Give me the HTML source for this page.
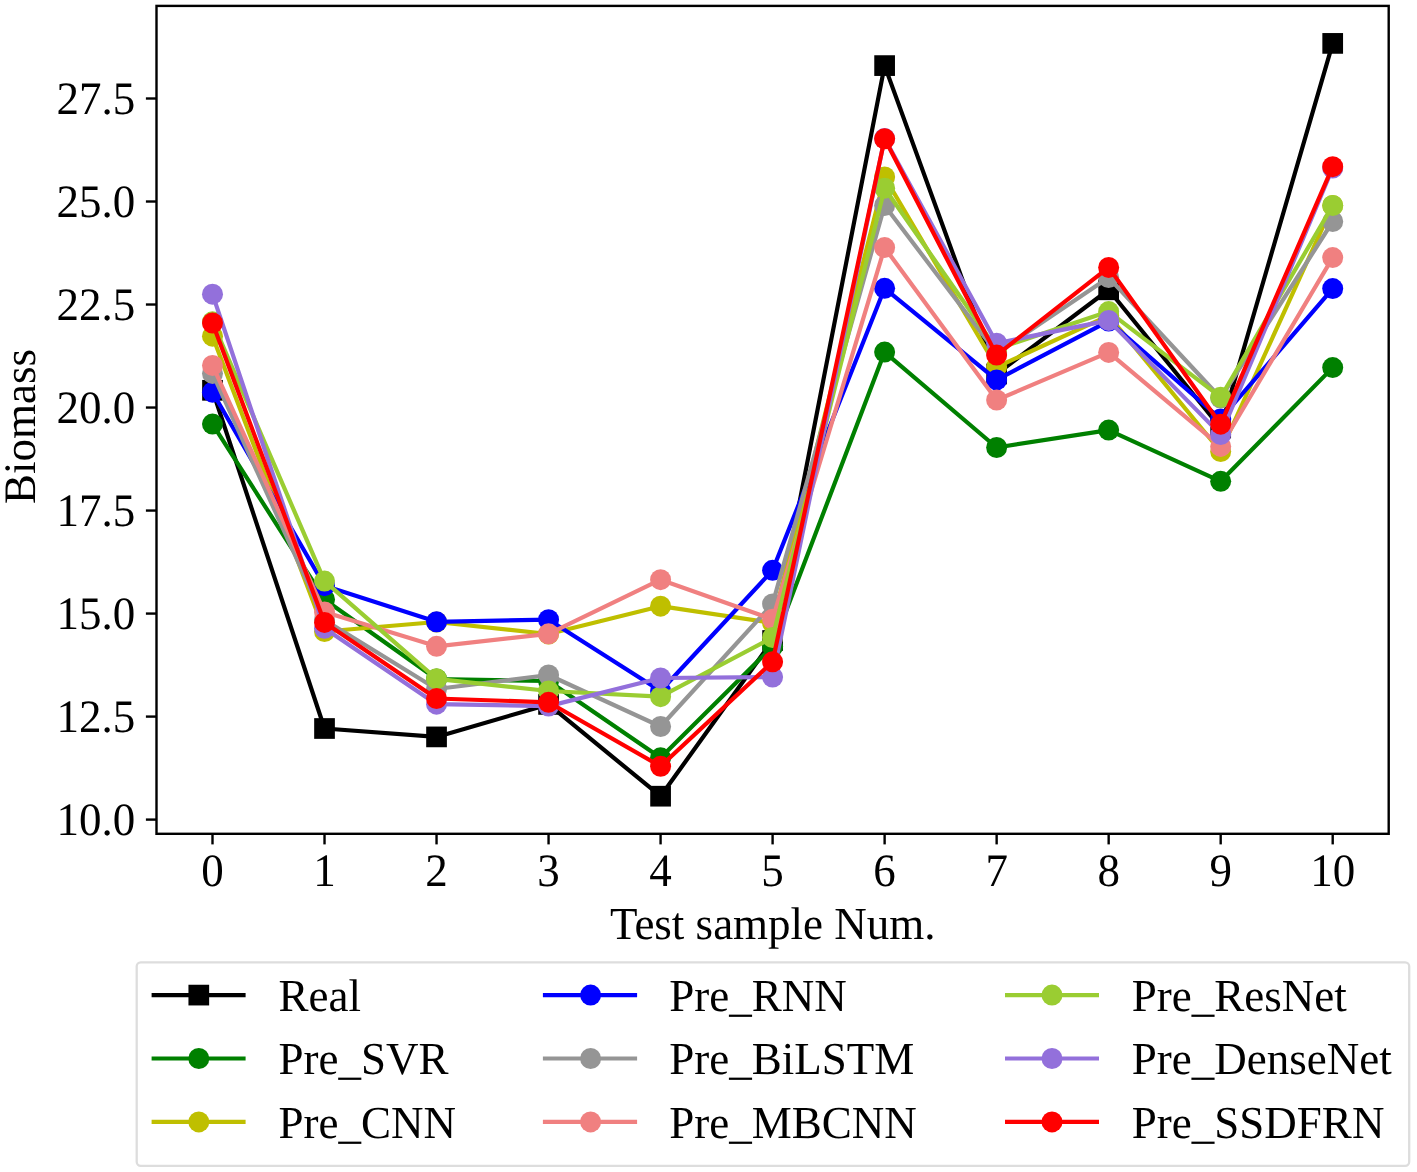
<!DOCTYPE html><html><head><meta charset="utf-8"><style>html,body{margin:0;padding:0;background:#fff;}svg{display:block;will-change:transform;}text{font-family:"Liberation Serif",serif;fill:#000;text-rendering:geometricPrecision;}</style></head><body>
<svg width="1417" height="1172" viewBox="0 0 1417 1172">
<rect width="1417" height="1172" fill="#fff"/>
<defs><clipPath id="ax"><rect x="156.5" y="5.9" width="1232.2" height="827.9"/></clipPath></defs>
<g clip-path="url(#ax)">
<polyline points="212.50,390.30 324.52,728.50 436.54,736.90 548.56,704.40 660.58,796.20 772.60,640.50 884.62,65.60 996.64,374.00 1108.66,289.80 1220.68,428.00 1332.70,43.40" fill="none" stroke="#000000" stroke-width="4.2" stroke-linejoin="round" stroke-linecap="butt"/>
<rect x="202.15" y="379.95" width="20.7" height="20.7" fill="#000000"/>
<rect x="314.17" y="718.15" width="20.7" height="20.7" fill="#000000"/>
<rect x="426.19" y="726.55" width="20.7" height="20.7" fill="#000000"/>
<rect x="538.21" y="694.05" width="20.7" height="20.7" fill="#000000"/>
<rect x="650.23" y="785.85" width="20.7" height="20.7" fill="#000000"/>
<rect x="762.25" y="630.15" width="20.7" height="20.7" fill="#000000"/>
<rect x="874.27" y="55.25" width="20.7" height="20.7" fill="#000000"/>
<rect x="986.29" y="363.65" width="20.7" height="20.7" fill="#000000"/>
<rect x="1098.31" y="279.45" width="20.7" height="20.7" fill="#000000"/>
<rect x="1210.33" y="417.65" width="20.7" height="20.7" fill="#000000"/>
<rect x="1322.35" y="33.05" width="20.7" height="20.7" fill="#000000"/>
<polyline points="212.50,424.10 324.52,599.50 436.54,679.00 548.56,681.00 660.58,757.80 772.60,646.50 884.62,352.10 996.64,447.50 1108.66,430.10 1220.68,481.30 1332.70,367.60" fill="none" stroke="#008000" stroke-width="4.2" stroke-linejoin="round" stroke-linecap="butt"/>
<circle cx="212.50" cy="424.10" r="10.5" fill="#008000"/>
<circle cx="324.52" cy="599.50" r="10.5" fill="#008000"/>
<circle cx="436.54" cy="679.00" r="10.5" fill="#008000"/>
<circle cx="548.56" cy="681.00" r="10.5" fill="#008000"/>
<circle cx="660.58" cy="757.80" r="10.5" fill="#008000"/>
<circle cx="772.60" cy="646.50" r="10.5" fill="#008000"/>
<circle cx="884.62" cy="352.10" r="10.5" fill="#008000"/>
<circle cx="996.64" cy="447.50" r="10.5" fill="#008000"/>
<circle cx="1108.66" cy="430.10" r="10.5" fill="#008000"/>
<circle cx="1220.68" cy="481.30" r="10.5" fill="#008000"/>
<circle cx="1332.70" cy="367.60" r="10.5" fill="#008000"/>
<polyline points="212.50,336.20 324.52,631.50 436.54,622.00 548.56,634.00 660.58,606.20 772.60,623.00 884.62,177.00 996.64,367.00 1108.66,315.70 1220.68,451.50 1332.70,205.50" fill="none" stroke="#bfbf00" stroke-width="4.2" stroke-linejoin="round" stroke-linecap="butt"/>
<circle cx="212.50" cy="336.20" r="10.5" fill="#bfbf00"/>
<circle cx="324.52" cy="631.50" r="10.5" fill="#bfbf00"/>
<circle cx="436.54" cy="622.00" r="10.5" fill="#bfbf00"/>
<circle cx="548.56" cy="634.00" r="10.5" fill="#bfbf00"/>
<circle cx="660.58" cy="606.20" r="10.5" fill="#bfbf00"/>
<circle cx="772.60" cy="623.00" r="10.5" fill="#bfbf00"/>
<circle cx="884.62" cy="177.00" r="10.5" fill="#bfbf00"/>
<circle cx="996.64" cy="367.00" r="10.5" fill="#bfbf00"/>
<circle cx="1108.66" cy="315.70" r="10.5" fill="#bfbf00"/>
<circle cx="1220.68" cy="451.50" r="10.5" fill="#bfbf00"/>
<circle cx="1332.70" cy="205.50" r="10.5" fill="#bfbf00"/>
<polyline points="212.50,392.20 324.52,585.70 436.54,621.80 548.56,619.70 660.58,691.00 772.60,570.30 884.62,288.30 996.64,379.90 1108.66,321.10 1220.68,419.00 1332.70,288.60" fill="none" stroke="#0000ff" stroke-width="4.2" stroke-linejoin="round" stroke-linecap="butt"/>
<circle cx="212.50" cy="392.20" r="10.5" fill="#0000ff"/>
<circle cx="324.52" cy="585.70" r="10.5" fill="#0000ff"/>
<circle cx="436.54" cy="621.80" r="10.5" fill="#0000ff"/>
<circle cx="548.56" cy="619.70" r="10.5" fill="#0000ff"/>
<circle cx="660.58" cy="691.00" r="10.5" fill="#0000ff"/>
<circle cx="772.60" cy="570.30" r="10.5" fill="#0000ff"/>
<circle cx="884.62" cy="288.30" r="10.5" fill="#0000ff"/>
<circle cx="996.64" cy="379.90" r="10.5" fill="#0000ff"/>
<circle cx="1108.66" cy="321.10" r="10.5" fill="#0000ff"/>
<circle cx="1220.68" cy="419.00" r="10.5" fill="#0000ff"/>
<circle cx="1332.70" cy="288.60" r="10.5" fill="#0000ff"/>
<polyline points="212.50,373.40 324.52,620.00 436.54,689.00 548.56,675.00 660.58,726.50 772.60,603.90 884.62,205.50 996.64,353.00 1108.66,277.50 1220.68,398.00 1332.70,221.50" fill="none" stroke="#959595" stroke-width="4.2" stroke-linejoin="round" stroke-linecap="butt"/>
<circle cx="212.50" cy="373.40" r="10.5" fill="#959595"/>
<circle cx="324.52" cy="620.00" r="10.5" fill="#959595"/>
<circle cx="436.54" cy="689.00" r="10.5" fill="#959595"/>
<circle cx="548.56" cy="675.00" r="10.5" fill="#959595"/>
<circle cx="660.58" cy="726.50" r="10.5" fill="#959595"/>
<circle cx="772.60" cy="603.90" r="10.5" fill="#959595"/>
<circle cx="884.62" cy="205.50" r="10.5" fill="#959595"/>
<circle cx="996.64" cy="353.00" r="10.5" fill="#959595"/>
<circle cx="1108.66" cy="277.50" r="10.5" fill="#959595"/>
<circle cx="1220.68" cy="398.00" r="10.5" fill="#959595"/>
<circle cx="1332.70" cy="221.50" r="10.5" fill="#959595"/>
<polyline points="212.50,365.40 324.52,612.00 436.54,646.30 548.56,633.80 660.58,579.70 772.60,619.20 884.62,247.60 996.64,400.00 1108.66,352.40 1220.68,446.40 1332.70,257.60" fill="none" stroke="#f08080" stroke-width="4.2" stroke-linejoin="round" stroke-linecap="butt"/>
<circle cx="212.50" cy="365.40" r="10.5" fill="#f08080"/>
<circle cx="324.52" cy="612.00" r="10.5" fill="#f08080"/>
<circle cx="436.54" cy="646.30" r="10.5" fill="#f08080"/>
<circle cx="548.56" cy="633.80" r="10.5" fill="#f08080"/>
<circle cx="660.58" cy="579.70" r="10.5" fill="#f08080"/>
<circle cx="772.60" cy="619.20" r="10.5" fill="#f08080"/>
<circle cx="884.62" cy="247.60" r="10.5" fill="#f08080"/>
<circle cx="996.64" cy="400.00" r="10.5" fill="#f08080"/>
<circle cx="1108.66" cy="352.40" r="10.5" fill="#f08080"/>
<circle cx="1220.68" cy="446.40" r="10.5" fill="#f08080"/>
<circle cx="1332.70" cy="257.60" r="10.5" fill="#f08080"/>
<polyline points="212.50,321.80 324.52,581.10 436.54,678.80 548.56,691.00 660.58,696.70 772.60,637.50 884.62,188.20 996.64,349.00 1108.66,311.60 1220.68,397.20 1332.70,205.50" fill="none" stroke="#9acd32" stroke-width="4.2" stroke-linejoin="round" stroke-linecap="butt"/>
<circle cx="212.50" cy="321.80" r="10.5" fill="#9acd32"/>
<circle cx="324.52" cy="581.10" r="10.5" fill="#9acd32"/>
<circle cx="436.54" cy="678.80" r="10.5" fill="#9acd32"/>
<circle cx="548.56" cy="691.00" r="10.5" fill="#9acd32"/>
<circle cx="660.58" cy="696.70" r="10.5" fill="#9acd32"/>
<circle cx="772.60" cy="637.50" r="10.5" fill="#9acd32"/>
<circle cx="884.62" cy="188.20" r="10.5" fill="#9acd32"/>
<circle cx="996.64" cy="349.00" r="10.5" fill="#9acd32"/>
<circle cx="1108.66" cy="311.60" r="10.5" fill="#9acd32"/>
<circle cx="1220.68" cy="397.20" r="10.5" fill="#9acd32"/>
<circle cx="1332.70" cy="205.50" r="10.5" fill="#9acd32"/>
<polyline points="212.50,294.20 324.52,628.30 436.54,704.20 548.56,706.10 660.58,678.00 772.60,677.10 884.62,138.50 996.64,343.20 1108.66,320.40 1220.68,434.60 1332.70,168.00" fill="none" stroke="#9370db" stroke-width="4.2" stroke-linejoin="round" stroke-linecap="butt"/>
<circle cx="212.50" cy="294.20" r="10.5" fill="#9370db"/>
<circle cx="324.52" cy="628.30" r="10.5" fill="#9370db"/>
<circle cx="436.54" cy="704.20" r="10.5" fill="#9370db"/>
<circle cx="548.56" cy="706.10" r="10.5" fill="#9370db"/>
<circle cx="660.58" cy="678.00" r="10.5" fill="#9370db"/>
<circle cx="772.60" cy="677.10" r="10.5" fill="#9370db"/>
<circle cx="884.62" cy="138.50" r="10.5" fill="#9370db"/>
<circle cx="996.64" cy="343.20" r="10.5" fill="#9370db"/>
<circle cx="1108.66" cy="320.40" r="10.5" fill="#9370db"/>
<circle cx="1220.68" cy="434.60" r="10.5" fill="#9370db"/>
<circle cx="1332.70" cy="168.00" r="10.5" fill="#9370db"/>
<polyline points="212.50,323.00 324.52,622.40 436.54,698.50 548.56,702.30 660.58,766.30 772.60,661.80 884.62,138.80 996.64,355.10 1108.66,267.40 1220.68,424.20 1332.70,166.70" fill="none" stroke="#ff0000" stroke-width="4.2" stroke-linejoin="round" stroke-linecap="butt"/>
<circle cx="212.50" cy="323.00" r="10.5" fill="#ff0000"/>
<circle cx="324.52" cy="622.40" r="10.5" fill="#ff0000"/>
<circle cx="436.54" cy="698.50" r="10.5" fill="#ff0000"/>
<circle cx="548.56" cy="702.30" r="10.5" fill="#ff0000"/>
<circle cx="660.58" cy="766.30" r="10.5" fill="#ff0000"/>
<circle cx="772.60" cy="661.80" r="10.5" fill="#ff0000"/>
<circle cx="884.62" cy="138.80" r="10.5" fill="#ff0000"/>
<circle cx="996.64" cy="355.10" r="10.5" fill="#ff0000"/>
<circle cx="1108.66" cy="267.40" r="10.5" fill="#ff0000"/>
<circle cx="1220.68" cy="424.20" r="10.5" fill="#ff0000"/>
<circle cx="1332.70" cy="166.70" r="10.5" fill="#ff0000"/>
</g>
<rect x="156.5" y="5.9" width="1232.2" height="827.9" fill="none" stroke="#000" stroke-width="2.4" stroke-linejoin="miter"/>
<line x1="145.90" y1="819.60" x2="156.5" y2="819.60" stroke="#000" stroke-width="2.4"/>
<text transform="translate(135.20,835.00) scale(1,1.032)" font-size="45" text-anchor="end">10.0</text>
<line x1="145.90" y1="716.59" x2="156.5" y2="716.59" stroke="#000" stroke-width="2.4"/>
<text transform="translate(135.20,731.99) scale(1,1.032)" font-size="45" text-anchor="end">12.5</text>
<line x1="145.90" y1="613.57" x2="156.5" y2="613.57" stroke="#000" stroke-width="2.4"/>
<text transform="translate(135.20,628.97) scale(1,1.032)" font-size="45" text-anchor="end">15.0</text>
<line x1="145.90" y1="510.56" x2="156.5" y2="510.56" stroke="#000" stroke-width="2.4"/>
<text transform="translate(135.20,525.96) scale(1,1.032)" font-size="45" text-anchor="end">17.5</text>
<line x1="145.90" y1="407.54" x2="156.5" y2="407.54" stroke="#000" stroke-width="2.4"/>
<text transform="translate(135.20,422.94) scale(1,1.032)" font-size="45" text-anchor="end">20.0</text>
<line x1="145.90" y1="304.52" x2="156.5" y2="304.52" stroke="#000" stroke-width="2.4"/>
<text transform="translate(135.20,319.92) scale(1,1.032)" font-size="45" text-anchor="end">22.5</text>
<line x1="145.90" y1="201.51" x2="156.5" y2="201.51" stroke="#000" stroke-width="2.4"/>
<text transform="translate(135.20,216.91) scale(1,1.032)" font-size="45" text-anchor="end">25.0</text>
<line x1="145.90" y1="98.50" x2="156.5" y2="98.50" stroke="#000" stroke-width="2.4"/>
<text transform="translate(135.20,113.90) scale(1,1.032)" font-size="45" text-anchor="end">27.5</text>
<line x1="212.50" y1="833.8" x2="212.50" y2="844.40" stroke="#000" stroke-width="2.4"/>
<text transform="translate(212.50,886.00) scale(1,1.032)" font-size="45" text-anchor="middle">0</text>
<line x1="324.52" y1="833.8" x2="324.52" y2="844.40" stroke="#000" stroke-width="2.4"/>
<text transform="translate(324.52,886.00) scale(1,1.032)" font-size="45" text-anchor="middle">1</text>
<line x1="436.54" y1="833.8" x2="436.54" y2="844.40" stroke="#000" stroke-width="2.4"/>
<text transform="translate(436.54,886.00) scale(1,1.032)" font-size="45" text-anchor="middle">2</text>
<line x1="548.56" y1="833.8" x2="548.56" y2="844.40" stroke="#000" stroke-width="2.4"/>
<text transform="translate(548.56,886.00) scale(1,1.032)" font-size="45" text-anchor="middle">3</text>
<line x1="660.58" y1="833.8" x2="660.58" y2="844.40" stroke="#000" stroke-width="2.4"/>
<text transform="translate(660.58,886.00) scale(1,1.032)" font-size="45" text-anchor="middle">4</text>
<line x1="772.60" y1="833.8" x2="772.60" y2="844.40" stroke="#000" stroke-width="2.4"/>
<text transform="translate(772.60,886.00) scale(1,1.032)" font-size="45" text-anchor="middle">5</text>
<line x1="884.62" y1="833.8" x2="884.62" y2="844.40" stroke="#000" stroke-width="2.4"/>
<text transform="translate(884.62,886.00) scale(1,1.032)" font-size="45" text-anchor="middle">6</text>
<line x1="996.64" y1="833.8" x2="996.64" y2="844.40" stroke="#000" stroke-width="2.4"/>
<text transform="translate(996.64,886.00) scale(1,1.032)" font-size="45" text-anchor="middle">7</text>
<line x1="1108.66" y1="833.8" x2="1108.66" y2="844.40" stroke="#000" stroke-width="2.4"/>
<text transform="translate(1108.66,886.00) scale(1,1.032)" font-size="45" text-anchor="middle">8</text>
<line x1="1220.68" y1="833.8" x2="1220.68" y2="844.40" stroke="#000" stroke-width="2.4"/>
<text transform="translate(1220.68,886.00) scale(1,1.032)" font-size="45" text-anchor="middle">9</text>
<line x1="1332.70" y1="833.8" x2="1332.70" y2="844.40" stroke="#000" stroke-width="2.4"/>
<text transform="translate(1332.70,886.00) scale(1,1.032)" font-size="45" text-anchor="middle">10</text>
<text transform="translate(772.80,938.60) scale(1,1.017)" font-size="45" text-anchor="middle">Test sample Num.</text>
<text transform="translate(35.4,426.5) rotate(-90) " font-size="45" text-anchor="middle">Biomass</text>
<rect x="136.7" y="962.3" width="1272.5" height="203.5" rx="4" ry="4" fill="#fff" stroke="#dddddd" stroke-width="2.3"/>
<line x1="151.6" y1="995.1" x2="245.6" y2="995.1" stroke="#000000" stroke-width="4.2"/>
<rect x="188.45" y="984.75" width="20.7" height="20.7" fill="#000000"/>
<text transform="translate(278.50,1010.70) scale(1,1.017)" font-size="45">Real</text>
<line x1="151.6" y1="1058.5" x2="245.6" y2="1058.5" stroke="#008000" stroke-width="4.2"/>
<circle cx="198.80" cy="1058.50" r="10.5" fill="#008000"/>
<text transform="translate(278.50,1074.10) scale(1,1.017)" font-size="45">Pre_SVR</text>
<line x1="151.6" y1="1121.9" x2="245.6" y2="1121.9" stroke="#bfbf00" stroke-width="4.2"/>
<circle cx="198.80" cy="1121.90" r="10.5" fill="#bfbf00"/>
<text transform="translate(278.50,1137.50) scale(1,1.017)" font-size="45">Pre_CNN</text>
<line x1="542.9" y1="995.1" x2="637.1" y2="995.1" stroke="#0000ff" stroke-width="4.2"/>
<circle cx="590.60" cy="995.10" r="10.5" fill="#0000ff"/>
<text transform="translate(669.30,1010.70) scale(1,1.017)" font-size="45">Pre_RNN</text>
<line x1="542.9" y1="1058.5" x2="637.1" y2="1058.5" stroke="#959595" stroke-width="4.2"/>
<circle cx="590.60" cy="1058.50" r="10.5" fill="#959595"/>
<text transform="translate(669.30,1074.10) scale(1,1.017)" font-size="45">Pre_BiLSTM</text>
<line x1="542.9" y1="1121.9" x2="637.1" y2="1121.9" stroke="#f08080" stroke-width="4.2"/>
<circle cx="590.60" cy="1121.90" r="10.5" fill="#f08080"/>
<text transform="translate(669.30,1137.50) scale(1,1.017)" font-size="45">Pre_MBCNN</text>
<line x1="1005.0" y1="995.1" x2="1099.0" y2="995.1" stroke="#9acd32" stroke-width="4.2"/>
<circle cx="1052.00" cy="995.10" r="10.5" fill="#9acd32"/>
<text transform="translate(1131.80,1010.70) scale(1,1.017)" font-size="45">Pre_ResNet</text>
<line x1="1005.0" y1="1058.5" x2="1099.0" y2="1058.5" stroke="#9370db" stroke-width="4.2"/>
<circle cx="1052.00" cy="1058.50" r="10.5" fill="#9370db"/>
<text transform="translate(1131.80,1074.10) scale(1,1.017)" font-size="45">Pre_DenseNet</text>
<line x1="1005.0" y1="1121.9" x2="1099.0" y2="1121.9" stroke="#ff0000" stroke-width="4.2"/>
<circle cx="1052.00" cy="1121.90" r="10.5" fill="#ff0000"/>
<text transform="translate(1131.80,1137.50) scale(1,1.017)" font-size="45">Pre_SSDFRN</text>
</svg></body></html>
